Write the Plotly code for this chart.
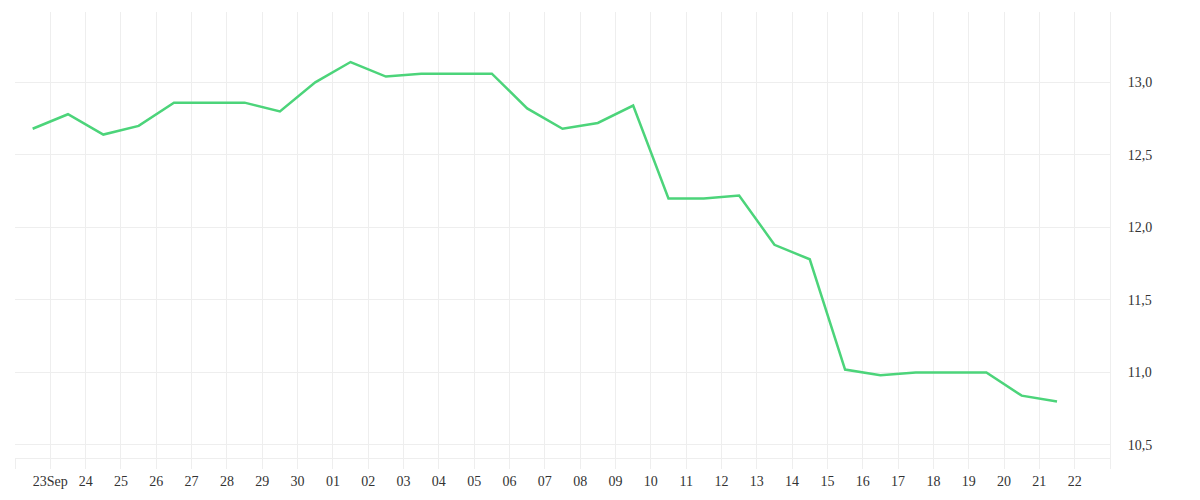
import plotly.graph_objects as go
import pandas as pd

# daily values, sampled at midday
dates = pd.date_range("2023-09-22 12:00", "2023-10-21 12:00", freq="D")
values = [12.68, 12.78, 12.64, 12.70, 12.86, 12.86, 12.86, 12.80, 13.00, 13.14,
          13.04, 13.06, 13.06, 13.06, 12.82, 12.68, 12.72, 12.84, 12.20, 12.20,
          12.22, 11.88, 11.78, 11.02, 10.98, 11.00, 11.00, 11.00, 10.84, 10.80]

tick_dates = pd.date_range("2023-09-22", "2023-10-23", freq="D")
tick_labels = [""] + ["23Sep"] + [d.strftime("%d") for d in tick_dates[2:-1]] + [""]

grid = "#eeeeee"
font = dict(family="Liberation Serif", size=14, color="#333333")

fig = go.Figure()
fig.add_trace(go.Scatter(
    x=dates, y=values, mode="lines",
    line=dict(color="#4cd47a", width=2.5),
    hovertemplate="%{x|%d %b}<br>%{y:.2f}<extra></extra>",
))

# page body adds 8px, so margins are trimmed to match
fig.update_layout(
    width=1200, height=500,
    margin=dict(l=7, r=98, t=4, b=50),
    plot_bgcolor="white", paper_bgcolor="white",
    showlegend=False,
    separators=", ",
    font=font,
)
fig.update_xaxes(
    range=[tick_dates[0], tick_dates[-1]],
    tickmode="array", tickvals=tick_dates, ticktext=tick_labels,
    showgrid=True, gridcolor=grid, gridwidth=1,
    ticks="outside", ticklen=10, tickcolor=grid,
    showline=True, linecolor=grid, linewidth=1,
    zeroline=False, tickfont=font,
)
# invisible ticks just to push the labels away from the plot edge
fig.update_yaxes(
    side="right", range=[10.41, 13.485],
    tickvals=[10.5, 11.0, 11.5, 12.0, 12.5, 13.0], tickformat=".1f",
    showgrid=True, gridcolor=grid, gridwidth=1,
    ticks="outside", ticklen=14, tickcolor="rgba(0,0,0,0)",
    showline=True, linecolor=grid, linewidth=1,
    zeroline=False, tickfont=font,
)

fig.write_html("out.html")
